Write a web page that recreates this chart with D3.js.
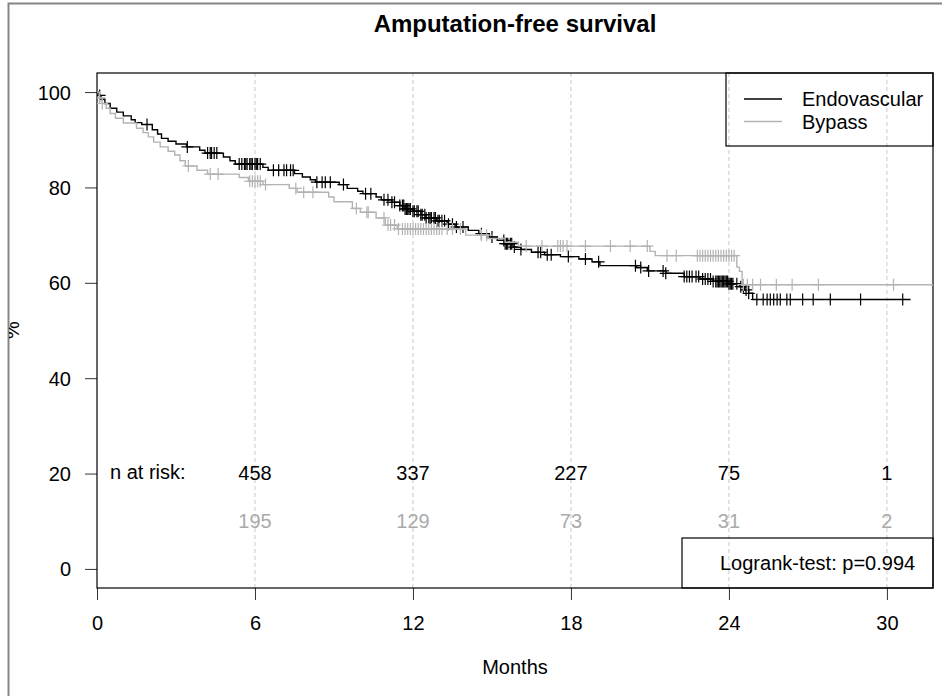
<!DOCTYPE html>
<html><head><meta charset="utf-8">
<script src="https://cdn.jsdelivr.net/npm/d3@7"></script>
<style>body{margin:0;background:#fff}svg{display:block}text{font-family:"Liberation Sans",Arial,Helvetica,sans-serif}</style>
</head><body><svg id="c" width="942" height="696"></svg>
<script>
// ---- data ----
const groups = ["Endovascular", "Bypass"];
const endoTimes = [0,0.05,0.15,0.3,0.5,0.75,1.0,1.3,1.45,1.7,2.1,2.3,2.45,2.7,3.0,3.4,3.9,4.1,4.8,5.05,5.25,6.3,6.5,7.5,7.8,8.1,8.3,9.2,9.5,9.9,10.1,10.6,10.8,11.2,11.5,11.7,12.0,12.3,12.5,12.9,13.3,13.6,14.1,14.5,14.9,15.2,15.5,15.8,16.1,16.5,17.0,17.6,18.3,18.8,19.1,20.5,20.9,21.6,22.3,22.9,23.4,24.0,24.4,24.6,24.75,24.9,30.9];
const endoSurv = [100,99.3,98.5,97.6,96.6,95.8,95.0,94.2,93.6,93.2,92.1,91.2,90.3,89.7,89.1,88.5,87.8,87.2,86.4,85.6,84.9,84.2,83.6,82.9,82.2,81.6,81.1,80.6,79.8,79.2,78.7,78.0,77.4,76.9,76.2,75.5,75.0,74.3,73.6,73.0,72.3,71.7,71.0,70.3,69.6,68.9,68.2,67.5,67.0,66.4,65.9,65.5,65.0,64.4,63.6,63.2,62.5,62.0,61.3,60.8,60.3,59.8,59.2,58.5,57.8,56.5,56.5];
const endoCensor = [0.1,1.9,3.43,4.2,4.3,4.35,4.45,4.55,5.4,5.5,5.6,5.65,5.7,5.8,5.85,5.9,6.0,6.05,6.1,6.2,6.7,6.9,7.1,7.2,7.35,7.45,8.35,8.55,8.67,8.86,9.36,10.2,10.4,10.9,11.05,11.2,11.3,11.5,11.6,11.65,11.7,11.75,11.8,11.85,11.9,12.0,12.05,12.15,12.2,12.3,12.35,12.45,12.5,12.6,12.65,12.7,12.8,12.85,12.95,13.0,13.1,13.2,13.35,13.5,13.65,13.9,14.6,15.0,15.45,15.5,15.55,15.6,15.7,15.75,15.85,16.1,16.75,16.85,17.1,17.25,17.9,18.55,19.05,20.45,20.65,20.95,21.5,21.6,22.3,22.4,22.5,22.6,22.75,22.85,23.0,23.1,23.2,23.3,23.4,23.5,23.55,23.6,23.65,23.7,23.75,23.8,23.85,23.9,23.95,24.0,24.05,24.1,24.15,24.3,24.45,24.55,24.65,24.75,25.06,25.3,25.45,25.57,25.7,25.83,25.95,26.2,26.33,26.8,27.2,27.85,29.0,30.6];
const bypTimes = [0,0.08,0.2,0.35,0.5,0.7,1.0,1.5,1.75,1.95,2.15,2.4,2.7,2.95,3.15,3.35,3.8,4.2,5.4,5.75,6.3,7.3,7.6,8.8,9.0,9.7,10.0,10.6,10.95,11.4,14.0,14.85,15.5,16.0,21.0,21.2,24.3,24.4,24.5,31.9];
const bypSurv = [100,98.8,97.6,96.6,95.5,94.5,93.5,92.4,91.5,90.6,89.5,88.5,87.6,86.8,85.6,84.5,83.6,82.8,82.1,81.3,80.6,79.8,79.0,78.0,77.0,75.6,74.8,73.6,72.1,71.3,70.0,69.3,68.5,67.7,66.6,65.7,63.3,62.4,59.6,59.6];
const bypCensor = [0.1,0.2,3.47,4.3,4.6,5.8,5.9,6.0,6.1,6.2,6.4,7.55,7.85,8.2,9.85,10.25,10.3,10.9,11.05,11.15,11.3,11.45,11.6,11.7,11.8,11.9,12.0,12.1,12.2,12.3,12.4,12.5,12.6,12.7,12.8,12.9,13.0,13.1,13.3,13.5,13.8,14.6,14.8,16.3,16.9,17.5,17.6,17.7,17.85,18.55,19.5,20.25,20.9,21.65,22.0,22.8,22.9,23.0,23.1,23.2,23.3,23.4,23.5,23.6,23.7,23.8,23.9,24.0,24.1,24.2,24.55,24.7,24.9,25.2,25.8,26.4,27.4,30.25];
const xTicks = [0,6,12,18,24,30];
const yTicks = [0,20,40,60,80,100];
const riskTimes = [6,12,18,24,30];
const riskEndo = [458,337,227,75,1];
const riskByp = [195,129,73,31,2];
const title = "Amputation-free survival";
const xLabel = "Months", yLabel = "%";
const pText = "Logrank-test: p=0.994";

// ---- drawing ----
const svg = d3.select("#c");
const L=97,R=933,T=73,B=588;
const x = d3.scaleLinear().domain([0,31.75]).range([L,R]);
const y = d3.scaleLinear().domain([-4,104]).range([B,T]);
const colEndo="#000", colByp="#b3b3b3";

svg.append("defs").append("clipPath").attr("id","pc").append("rect").attr("x",L).attr("y",T).attr("width",R-L).attr("height",B-T);
svg.select("defs").append("clipPath").attr("id","fc").append("rect").attr("x",9).attr("y",4).attr("width",940).attr("height",700);

// outer border
svg.append("rect").attr("x",8.5).attr("y",3.5).attr("width",1000).attr("height",1000).attr("fill","none").attr("stroke","#858585").attr("stroke-width",2);

// title
svg.append("text").attr("x",(L+R)/2).attr("y",32).attr("text-anchor","middle").attr("font-size",24).attr("font-weight","bold").text(title);

// grid
svg.append("g").selectAll("line").data(xTicks.filter(d=>d>0)).join("line")
  .attr("x1",d=>x(d)).attr("x2",d=>x(d)).attr("y1",T).attr("y2",B)
  .attr("stroke","#c8c8c8").attr("stroke-dasharray","4,3").attr("stroke-width",1);

// axes
const xa = svg.append("g").attr("transform",`translate(0,${B})`).call(d3.axisBottom(x).tickValues(xTicks).tickSize(12).tickPadding(16).tickSizeOuter(0));
const ya = svg.append("g").attr("transform",`translate(${L},0)`).call(d3.axisLeft(y).tickValues(yTicks).tickSize(12).tickPadding(14).tickSizeOuter(0));
[xa,ya].forEach(a=>{a.select(".domain").remove();a.selectAll("text").attr("font-size",20).attr("fill","#000").attr("font-family","Liberation Sans, Arial, sans-serif");a.selectAll("line").attr("stroke","#333");});
ya.selectAll("text").attr("dy","0.35em");
xa.selectAll("text").attr("dy","0.71em");

// box
svg.append("rect").attr("x",L).attr("y",T).attr("width",R-L).attr("height",B-T).attr("fill","none").attr("stroke","#000").attr("stroke-width",1.2);

// labels
svg.append("text").attr("x",(L+R)/2).attr("y",674).attr("text-anchor","middle").attr("font-size",20).text(xLabel);
svg.append("g").attr("clip-path","url(#fc)").append("text").attr("transform","translate(19,330) rotate(-90)").attr("text-anchor","middle").attr("font-size",20).text(yLabel);

// curves
const plot = svg.append("g").attr("clip-path","url(#pc)");
function stepFn(times,surv){return t=>{let v=surv[0];for(let i=0;i<times.length;i++){if(times[i]<=t)v=surv[i];else break;}return v;};}
const line = d3.line().x(d=>x(d[0])).y(d=>y(d[1])).curve(d3.curveStepAfter);
const series = [
  {t:endoTimes,s:endoSurv,c:endoCensor,col:colEndo},
  {t:bypTimes,s:bypSurv,c:bypCensor,col:colByp}
];
series.forEach(g=>{
  plot.append("path").datum(g.t.map((t,i)=>[t,g.s[i]])).attr("d",line).attr("fill","none").attr("stroke",g.col).attr("stroke-width",1.4);
  const f = stepFn(g.t,g.s);
  plot.append("g").selectAll("path").data(g.c).join("path")
    .attr("d",d=>{const px=x(d),py=y(f(d));return `M${px-6},${py}H${px+6}M${px},${py-6}V${py+6}`;})
    .attr("stroke",g.col).attr("stroke-width",1.2).attr("fill","none");
});

// numbers at risk
svg.append("text").attr("x",110).attr("y",479).attr("font-size",20).text("n at risk:");
svg.append("g").selectAll("text").data(riskEndo).join("text").attr("x",(d,i)=>x(riskTimes[i])).attr("y",480).attr("text-anchor","middle").attr("font-size",20).attr("fill",colEndo).text(d=>d);
svg.append("g").selectAll("text").data(riskByp).join("text").attr("x",(d,i)=>x(riskTimes[i])).attr("y",528).attr("text-anchor","middle").attr("font-size",20).attr("fill","#aaaaaa").text(d=>d);

// legend
svg.append("rect").attr("x",726).attr("y",T).attr("width",R-726).attr("height",73).attr("fill","none").attr("stroke","#000").attr("stroke-width",1.2);
[colEndo,colByp].forEach((c,i)=>{
  svg.append("line").attr("x1",744).attr("x2",782).attr("y1",99+i*22.5).attr("y2",99+i*22.5).attr("stroke",c).attr("stroke-width",1.4);
  svg.append("text").attr("x",802).attr("y",106+i*22.5).attr("font-size",20).text(groups[i]);
});

// logrank box
svg.append("rect").attr("x",682).attr("y",538).attr("width",R-682).attr("height",B-538).attr("fill","none").attr("stroke","#000").attr("stroke-width",1.2);
svg.append("text").attr("x",720).attr("y",570).attr("font-size",20).text(pText);
</script></body></html>
